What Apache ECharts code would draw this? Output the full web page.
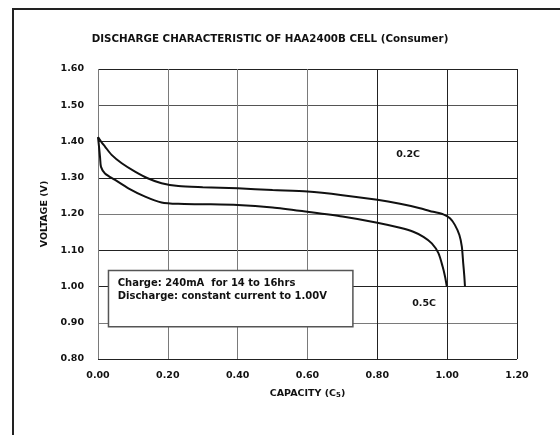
<!DOCTYPE html>
<html>
<head>
<meta charset="utf-8">
<script src="https://cdn.jsdelivr.net/npm/echarts@6/dist/echarts.min.js"></script>
<style>
  html, body { margin: 0; padding: 0; background: #fff; }
  #main { width: 560px; height: 435px; }
</style>
</head>
<body>
<div id="main"></div>
<script>
// 容量 / 电压 读数 (0.2C 放电)
var cap02 = [0, 0.01, 0.02, 0.039, 0.068, 0.106, 0.144, 0.182, 0.23, 0.3, 0.4, 0.5, 0.6, 0.7, 0.8, 0.865, 0.922, 0.96, 0.989, 1.008, 1.022, 1.035, 1.042, 1.046, 1.049, 1.051];
var volt02 = [1.412, 1.398, 1.386, 1.363, 1.340, 1.317, 1.298, 1.285, 1.277, 1.274, 1.271, 1.266, 1.262, 1.252, 1.239, 1.228, 1.216, 1.206, 1.199, 1.188, 1.170, 1.142, 1.110, 1.064, 1.030, 1.000];
// 0.5C 放电
var cap05 = [0, 0.003, 0.006, 0.0086, 0.02, 0.049, 0.087, 0.135, 0.182, 0.23, 0.3, 0.4, 0.5, 0.6, 0.7, 0.8, 0.865, 0.903, 0.932, 0.956, 0.975, 0.987, 0.994, 0.999];
var volt05 = [1.412, 1.385, 1.355, 1.330, 1.312, 1.294, 1.271, 1.248, 1.232, 1.228, 1.227, 1.225, 1.218, 1.206, 1.193, 1.176, 1.162, 1.151, 1.137, 1.119, 1.092, 1.055, 1.027, 1.000];

var rateNames = ['0.2C', '0.5C'];
var ratePos = [[0.888, 1.363], [0.934, 0.952]];   // 标注位置 (数据坐标)
var noteLines = ['Charge: 240mA  for 14 to 16hrs', 'Discharge: constant current to 1.00V'];
var noteBox = [[0.03, 1.044], [0.73, 0.889]];

var xMin = 0, xMax = 1.2, xStep = 0.2;
var yMin = 0.8, yMax = 1.6, yStep = 0.1;

var font = 'DejaVu Sans';
var ink = '#111';

function pairs(xs, ys) {
    var out = [];
    for (var i = 0; i < xs.length; i++) out.push([xs[i], ys[i]]);
    return out;
}

var chart = echarts.init(document.getElementById('main'));

var option = {
    animation: false,
    backgroundColor: '#fff',
    title: {
        text: 'DISCHARGE CHARACTERISTIC OF HAA2400B CELL (Consumer)',
        left: 265,
        top: 29,
        textAlign: 'center',
        textStyle: { fontFamily: font, fontWeight: 'bold', fontSize: 10.3, color: ink }
    },
    graphic: [
        {   // 外框 (只露出左边和上边)
            type: 'rect',
            shape: { x: 13, y: 9, width: 700, height: 600 },
            style: { fill: 'none', stroke: '#222', lineWidth: 2 },
            silent: true
        }
    ],
    grid: { left: 98, top: 69, width: 419, height: 290 },
    xAxis: {
        type: 'value',
        min: xMin, max: xMax, interval: xStep,
        name: '{a|CAPACITY (C}{s|5}{a|)}',
        nameLocation: 'middle',
        nameGap: 29,
        nameTextStyle: {
            rich: {
                a: { fontFamily: font, fontWeight: 'bold', fontSize: 9.5, color: ink },
                s: { fontFamily: font, fontWeight: 'bold', fontSize: 7, color: ink, verticalAlign: 'bottom', padding: [4, 0, 0, 0] }
            }
        },
        axisLine: { show: false },
        axisTick: { show: false },
        axisLabel: {
            margin: 12,
            formatter: function (v) { return v.toFixed(2); },
            fontFamily: font, fontWeight: 'bold', fontSize: 9.5, color: ink
        },
        splitLine: {
            show: true,
            lineStyle: { width: 1, color: ['#7a7a7a', '#7a7a7a', '#7a7a7a', '#7a7a7a', '#222', '#222', '#222'] }
        }
    },
    yAxis: {
        type: 'value',
        min: yMin, max: yMax, interval: yStep,
        name: 'VOLTAGE (V)',
        nameLocation: 'middle',
        nameGap: 38,
        nameTextStyle: { fontFamily: font, fontWeight: 'bold', fontSize: 9.5, color: ink },
        axisLine: { show: false },
        axisTick: { show: false },
        axisLabel: {
            margin: 14,
            formatter: function (v) { return v.toFixed(2); },
            fontFamily: font, fontWeight: 'bold', fontSize: 9.5, color: ink
        },
        splitLine: {
            show: true,
            lineStyle: { width: 1, color: ['#222', '#7a7a7a', '#222', '#222', '#7a7a7a', '#222', '#222', '#555', '#222'] }
        }
    },
    series: [
        {
            name: rateNames[0],
            type: 'line',
            data: pairs(cap02, volt02),
            smooth: 0.25,
            symbol: 'none',
            lineStyle: { color: ink, width: 2 },
            markPoint: {
                symbol: 'circle', symbolSize: 0, silent: true,
                label: { show: true, position: 'inside', formatter: rateNames[0], fontFamily: font, fontWeight: 'bold', fontSize: 9.5, color: ink },
                data: [{ coord: ratePos[0] }]
            }
        },
        {
            name: rateNames[1],
            type: 'line',
            data: pairs(cap05, volt05),
            smooth: 0.25,
            symbol: 'none',
            lineStyle: { color: ink, width: 2 },
            markPoint: {
                symbol: 'circle', symbolSize: 0, silent: true,
                label: { show: true, position: 'inside', formatter: rateNames[1], fontFamily: font, fontWeight: 'bold', fontSize: 9.5, color: ink },
                data: [{ coord: ratePos[1] }]
            },
            markArea: {
                silent: true,
                itemStyle: { color: '#fff', opacity: 1, borderColor: '#555', borderWidth: 1.5 },
                label: {
                    show: true,
                    position: 'insideTopLeft',
                    distance: 0,
                    padding: [7, 0, 0, 10],
                    formatter: noteLines.join('\n'),
                    lineHeight: 13,
                    fontFamily: font, fontWeight: 'bold', fontSize: 10, color: ink
                },
                data: [[{ coord: noteBox[0] }, { coord: noteBox[1] }]]
            }
        }
    ]
};

chart.setOption(option);
</script>
</body>
</html>
